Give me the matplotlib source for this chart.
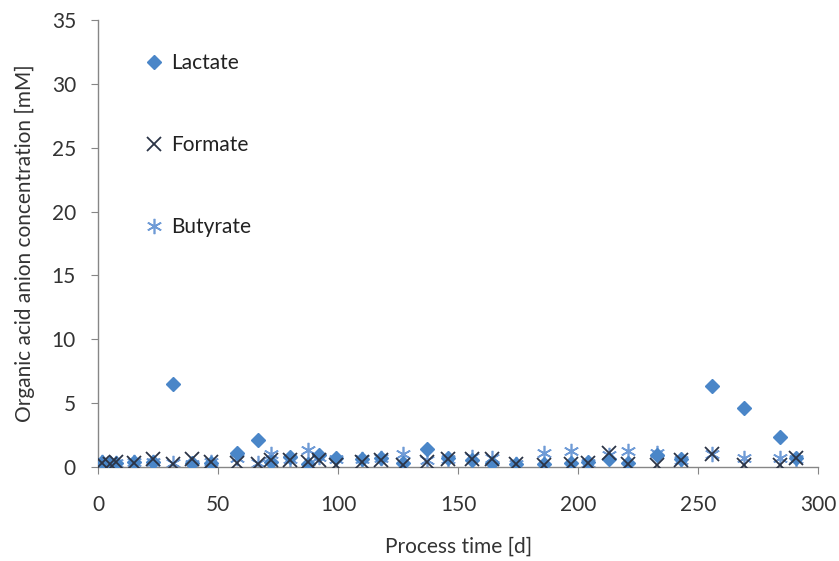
import matplotlib
matplotlib.use("Agg")
import matplotlib.pyplot as plt

days = [1.5, 5, 7.5, 15, 23, 31, 39, 47, 58, 66.5, 72, 80, 87.5, 92, 99, 110, 118, 127,
        137, 146, 156, 164, 174, 186, 197, 204, 213, 221, 233, 243, 256, 269, 284, 291]
lactate = [0.4, 0.3, 0.3, 0.4, 0.4, 6.5, 0.3, 0.3, 1.1, 2.1, 0.4, 0.8, 0.2, 0.9, 0.7, 0.6, 0.7, 0.3,
           1.4, 0.7, 0.5, 0.3, 0.2, 0.2, 0.3, 0.4, 0.6, 0.3, 0.9, 0.6, 6.3, 4.6, 2.3, 0.7]
formate = [0.3, 0.2, 0.4, 0.3, 0.6, 0.2, 0.6, 0.4, 0.3, 0.2, 0.5, 0.5, 0.4, 0.5, 0.1, 0.4, 0.5, 0.1,
           0.4, 0.6, 0.6, 0.6, 0.2, 0.1, 0.2, 0.3, 1.1, 0.2, 0.1, 0.5, 1.0, 0.1, 0.1, 0.7]
butyrate = [0.4, 0.3, 0.3, 0.4, 0.4, 0.3, 0.2, 0.4, 0.7, 0.3, 1.0, 0.6, 1.3, 0.8, 0.6, 0.6, 0.7, 1.0,
            0.5, 0.6, 0.8, 0.7, 0.2, 1.1, 1.2, 0.3, 0.9, 1.2, 1.1, 0.5, 1.0, 0.7, 0.7, 0.6]

plt.rcParams['font.family'] = ['Lato', 'DejaVu Sans']

fig = plt.figure(figsize=(8.39, 5.61), dpi=100)
ax = fig.add_axes([0.117, 0.168, 0.858, 0.796])

ax.plot(days, lactate, linestyle='none', marker='D', markersize=7.5, color='#4A86C8',
        markeredgecolor='#4A86C8', label='Lactate', zorder=3)
ax.plot(days, formate, linestyle='none', marker='x', markersize=10, markeredgewidth=1.3,
        color='#2B3446', label='Formate', zorder=4)
ax.plot(days, butyrate, linestyle='none', marker=(6, 2, 0), markersize=11, markeredgewidth=1.2,
        color='#6F9BD6', label='Butyrate', zorder=2)

ax.set_xlim(0, 300)
ax.set_ylim(0, 35)
ax.set_xticks(range(0, 301, 50))
ax.set_yticks(range(0, 36, 5))
for s in ['top', 'right']:
    ax.spines[s].set_visible(False)
for s in ['left', 'bottom']:
    ax.spines[s].set_color('#868686')
    ax.spines[s].set_linewidth(1.0)
ax.tick_params(axis='both', direction='out', colors='#868686', labelcolor='#333333',
               labelsize=15, length=5)
ax.tick_params(axis='x', pad=15)
ax.tick_params(axis='y', pad=11)
ax.set_xlabel('Process time [d]', fontsize=15, color='#333333', labelpad=16)
ax.set_ylabel('Organic acid anion concentration [mM]', fontsize=15, color='#333333', labelpad=12)

leg = ax.legend(loc='upper left', bbox_to_anchor=(0.055, 0.945), frameon=False,
                fontsize=15, labelspacing=2.97, handlelength=0.8, handletextpad=0.4,
                borderaxespad=0)
for t in leg.get_texts():
    t.set_color('#222222')

fig.savefig('out.png', dpi=100)
